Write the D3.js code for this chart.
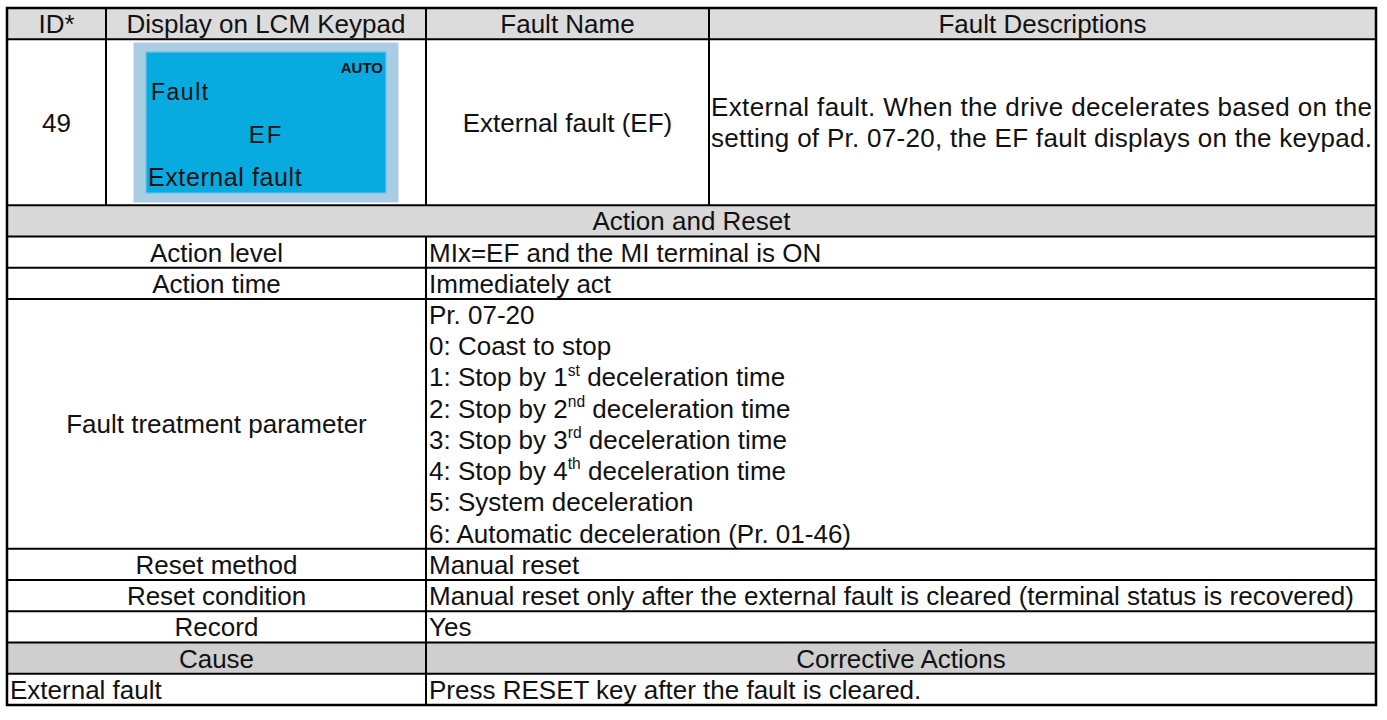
<!DOCTYPE html>
<html>
<head>
<meta charset="utf-8">
<script src="https://cdn.jsdelivr.net/npm/d3@7"></script>
<style>
html,body{margin:0;padding:0;background:#fff;}
svg{display:block;}
text{font-family:"Liberation Sans",Arial,sans-serif;fill:#111;}
</style>
</head>
<body>
<svg id="chart" width="1387" height="720"></svg>
<script>
// ---------- data ----------
const headers = ["ID*", "Display on LCM Keypad", "Fault Name", "Fault Descriptions"];
const faultId = "49";
const lcdLines = ["AUTO", "Fault", "EF", "External fault"];
const faultName = "External fault (EF)";
const descLines = ["External fault. When the drive decelerates based on the",
                   "setting of Pr. 07-20, the EF fault displays on the keypad."];
const sectionTitle = "Action and Reset";
const actionLabels = ["Action level", "Action time", "Fault treatment parameter", "Reset method", "Reset condition", "Record"];
const actionValues = [
  [["MIx=EF and the MI terminal is ON"]],
  [["Immediately act"]],
  [["Pr. 07-20"], ["0: Coast to stop"],
   ["1: Stop by 1", "st", " deceleration time"],
   ["2: Stop by 2", "nd", " deceleration time"],
   ["3: Stop by 3", "rd", " deceleration time"],
   ["4: Stop by 4", "th", " deceleration time"],
   ["5: System deceleration"], ["6: Automatic deceleration (Pr. 01-46)"]],
  [["Manual reset"]],
  [["Manual reset only after the external fault is cleared (terminal status is recovered)"]],
  [["Yes"]]
];
const causeHeaders = ["Cause", "Corrective Actions"];
const causes = ["External fault"];
const actions = ["Press RESET key after the fault is cleared."];

// ---------- layout ----------
const svg = d3.select("#chart");
const colEdges = [7, 106, 426, 709, 1376];
const fs = 26;
const row1Units = 5.32;
const rowUnits = [1, row1Units, 1].concat(actionValues.map(v => v.length), [1], causes.map(() => 1));
const cum = [0];
rowUnits.forEach(u => cum.push(cum[cum.length - 1] + u));
const y = d3.scaleLinear().domain([0, cum[cum.length - 1]]).range([8, 705]);
const pitch = y(1) - y(0);

const gFill = svg.append("g");
const gText = svg.append("g");
const gLines = svg.append("g").attr("stroke", "#000").attr("stroke-width", 2).attr("fill", "none");

function rowTop(i) { return y(cum[i]); }
function rowBot(i) { return y(cum[i + 1]); }

const fullW = colEdges[4] - colEdges[0];
gFill.append("rect").attr("x", colEdges[0]).attr("y", rowTop(0)).attr("width", fullW).attr("height", rowBot(0) - rowTop(0)).attr("fill", "#dcdcdc");
gFill.append("rect").attr("x", colEdges[0]).attr("y", rowTop(2)).attr("width", fullW).attr("height", rowBot(2) - rowTop(2)).attr("fill", "#d9d9d9");
const causeRow = 3 + actionValues.length;
gFill.append("rect").attr("x", colEdges[0]).attr("y", rowTop(causeRow)).attr("width", fullW).attr("height", rowBot(causeRow) - rowTop(causeRow)).attr("fill", "#cfcfcf");

function txt(str, xx, yy, anchor, size) {
  return gText.append("text").attr("x", xx).attr("y", yy).attr("text-anchor", anchor || "start")
    .attr("dy", "0.36em").attr("font-size", size || fs).text(str);
}

// header row
headers.forEach((h, i) => {
  txt(h, (colEdges[i] + colEdges[i + 1]) / 2, (rowTop(0) + rowBot(0)) / 2, "middle");
});

// row 1
const r1c = (rowTop(1) + rowBot(1)) / 2;
txt(faultId, (colEdges[0] + colEdges[1]) / 2, r1c, "middle");
txt(faultName, (colEdges[2] + colEdges[3]) / 2, r1c, "middle");
descLines.forEach((d, i) => txt(d, colEdges[3] + 2, r1c + (i - 0.5) * pitch)
  .attr("textLength", colEdges[4] - colEdges[3] - 6).attr("lengthAdjust", "spacing"));

// LCD panel
const lcd = svg.append("g");
lcd.append("rect").attr("x", 134).attr("y", 43).attr("width", 264).attr("height", 159).attr("fill", "#a9cde2").attr("stroke", "#b9c6e6").attr("stroke-width", 1);
lcd.append("rect").attr("x", 146).attr("y", 52).attr("width", 240).attr("height", 141).attr("fill", "#08abe0").attr("stroke", "#6cc3e8").attr("stroke-width", 1.2);
lcd.append("text").attr("x", 383).attr("y", 68).attr("dy", "0.36em").attr("text-anchor", "end").attr("font-size", 15).attr("font-weight", "bold").attr("fill", "#1a1a1a").text(lcdLines[0]);
lcd.append("text").attr("x", 151).attr("y", 92).attr("dy", "0.36em").attr("font-size", 23).attr("letter-spacing", 1.5).attr("fill", "#1a1a1a").text(lcdLines[1]);
lcd.append("text").attr("x", 266).attr("y", 134).attr("dy", "0.36em").attr("text-anchor", "middle").attr("font-size", 24).attr("letter-spacing", 2).attr("fill", "#1a1a1a").text(lcdLines[2]);
lcd.append("text").attr("x", 148).attr("y", 177).attr("dy", "0.36em").attr("font-size", 25).attr("letter-spacing", 0.6).attr("fill", "#1a1a1a").text(lcdLines[3]);

// section title
txt(sectionTitle, (colEdges[0] + colEdges[4]) / 2, (rowTop(2) + rowBot(2)) / 2, "middle");

// action rows
actionLabels.forEach((lab, k) => {
  const ri = 3 + k;
  const t = rowTop(ri), b = rowBot(ri);
  txt(lab, (colEdges[0] + colEdges[2]) / 2, (t + b) / 2, "middle");
  actionValues[k].forEach((parts, li) => {
    const tt = txt("", colEdges[2] + 3, t + (li + 0.5) * pitch);
    parts.forEach((p, pi) => {
      const sp = tt.append("tspan").text(p);
      if (pi === 1) sp.attr("font-size", fs * 0.6).attr("dy", "-0.7em");
      if (pi === 2) sp.attr("dy", "0.42em");
    });
  });
});

// cause header
const ct = rowTop(causeRow), cb = rowBot(causeRow);
txt(causeHeaders[0], (colEdges[0] + colEdges[2]) / 2, (ct + cb) / 2, "middle");
txt(causeHeaders[1], (colEdges[2] + colEdges[4]) / 2, (ct + cb) / 2, "middle");
causes.forEach((c, i) => {
  const ri = causeRow + 1 + i;
  const m = (rowTop(ri) + rowBot(ri)) / 2;
  txt(c, colEdges[0] + 3, m);
  txt(actions[i], colEdges[2] + 3, m);
});

// grid lines
for (let i = 1; i < rowUnits.length; i++) {
  gLines.append("line").attr("x1", colEdges[0]).attr("x2", colEdges[4]).attr("y1", y(cum[i])).attr("y2", y(cum[i]));
}
[1, 2, 3].forEach(c => {
  gLines.append("line").attr("x1", colEdges[c]).attr("x2", colEdges[c]).attr("y1", rowTop(0)).attr("y2", rowBot(1));
});
gLines.append("line").attr("x1", colEdges[2]).attr("x2", colEdges[2]).attr("y1", rowTop(3)).attr("y2", y(cum[cum.length - 1]));
gLines.append("rect").attr("x", colEdges[0]).attr("y", y(0)).attr("width", fullW).attr("height", y(cum[cum.length - 1]) - y(0)).attr("stroke-width", 2.5);
</script>
</body>
</html>
